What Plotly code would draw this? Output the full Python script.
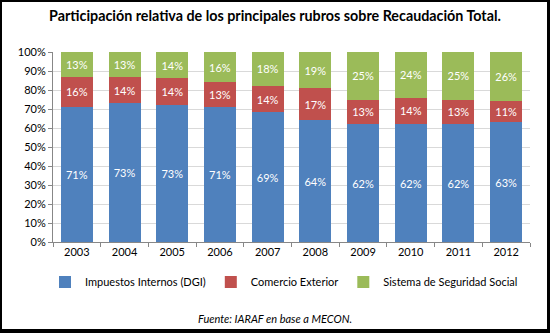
import plotly.graph_objects as go

years = ["2003", "2004", "2005", "2006", "2007", "2008", "2009", "2010", "2011", "2012"]
dgi = [71, 73, 73, 71, 69, 64, 62, 62, 62, 63]
comercio = [16, 14, 14, 13, 14, 17, 13, 14, 13, 11]
seguridad = [13, 13, 14, 16, 18, 19, 25, 24, 25, 26]

series_names = ["Impuestos Internos (DGI)", "Comercio Exterior", "Sistema de Seguridad Social"]
colors = ["#4F81BD", "#C0504D", "#9BBB59"]

W, H = 550, 333
L, R, T, B = 53, 20, 52, 91
pw, ph = W - L - R, H - T - B

def px(x):
    return (x - L) / pw

def py(y):
    return (H - B - y) / ph

FONT = "Lato"

fig = go.Figure()
for name, vals, col in zip(series_names, [dgi, comercio, seguridad], colors):
    fig.add_trace(go.Bar(
        x=years, y=vals, name=name, marker_color=col, marker_line_width=0,
        text=[f"{v}%" for v in vals], textposition="inside", insidetextanchor="middle",
        textfont=dict(color="white", size=11, family=FONT), textangle=0,
    ))

fig.update_layout(
    barmode="stack", barnorm="percent", bargap=0.33,
    width=W, height=H, margin=dict(l=L, r=R, t=T, b=B),
    paper_bgcolor="white", plot_bgcolor="white",
    font=dict(family=FONT, size=11, color="black"),
    title=dict(text="<b>Participación relativa de los principales rubros sobre Recaudación Total.</b>",
               x=0.5, xanchor="center", y=1 - 16 / H, yanchor="middle",
               font=dict(size=14.3, family=FONT, color="black")),
    showlegend=True,
    legend=dict(orientation="h", x=px(284), xanchor="center", y=py(282), yanchor="middle",
                font=dict(size=11, family=FONT), traceorder="normal", itemwidth=30),
    uniformtext=dict(minsize=8, mode="show"),
)
fig.update_yaxes(range=[0, 100], dtick=10, ticksuffix="%", showgrid=True, gridcolor="#D9D9D9",
                 showline=True, linecolor="#878787", ticks="outside", ticklen=4, tickcolor="#878787",
                 tickfont=dict(size=11, family=FONT))
fig.update_xaxes(showline=True, linecolor="#878787", ticks="outside", ticklen=4, tickcolor="#878787",
                 tickson="boundaries", tickfont=dict(size=11, family=FONT))

fig.add_annotation(text="<i>Fuente: IARAF en base a MECON.</i>", xref="paper", yref="paper",
                   x=px(275), y=py(318), xanchor="center", yanchor="middle", showarrow=False,
                   font=dict(size=11, family=FONT, color="black"))

# black frame around the picture
for (x0, y0, x1, y1) in [(0, 0, 2, H), (0, 0, W, 2), (W - 3, 0, W, H), (0, H - 4, W, H)]:
    fig.add_shape(type="rect", xref="paper", yref="paper", x0=px(x0), x1=px(x1), y0=py(y1), y1=py(y0),
                  fillcolor="black", line_width=0, layer="above")

fig.write_html("out.html")
